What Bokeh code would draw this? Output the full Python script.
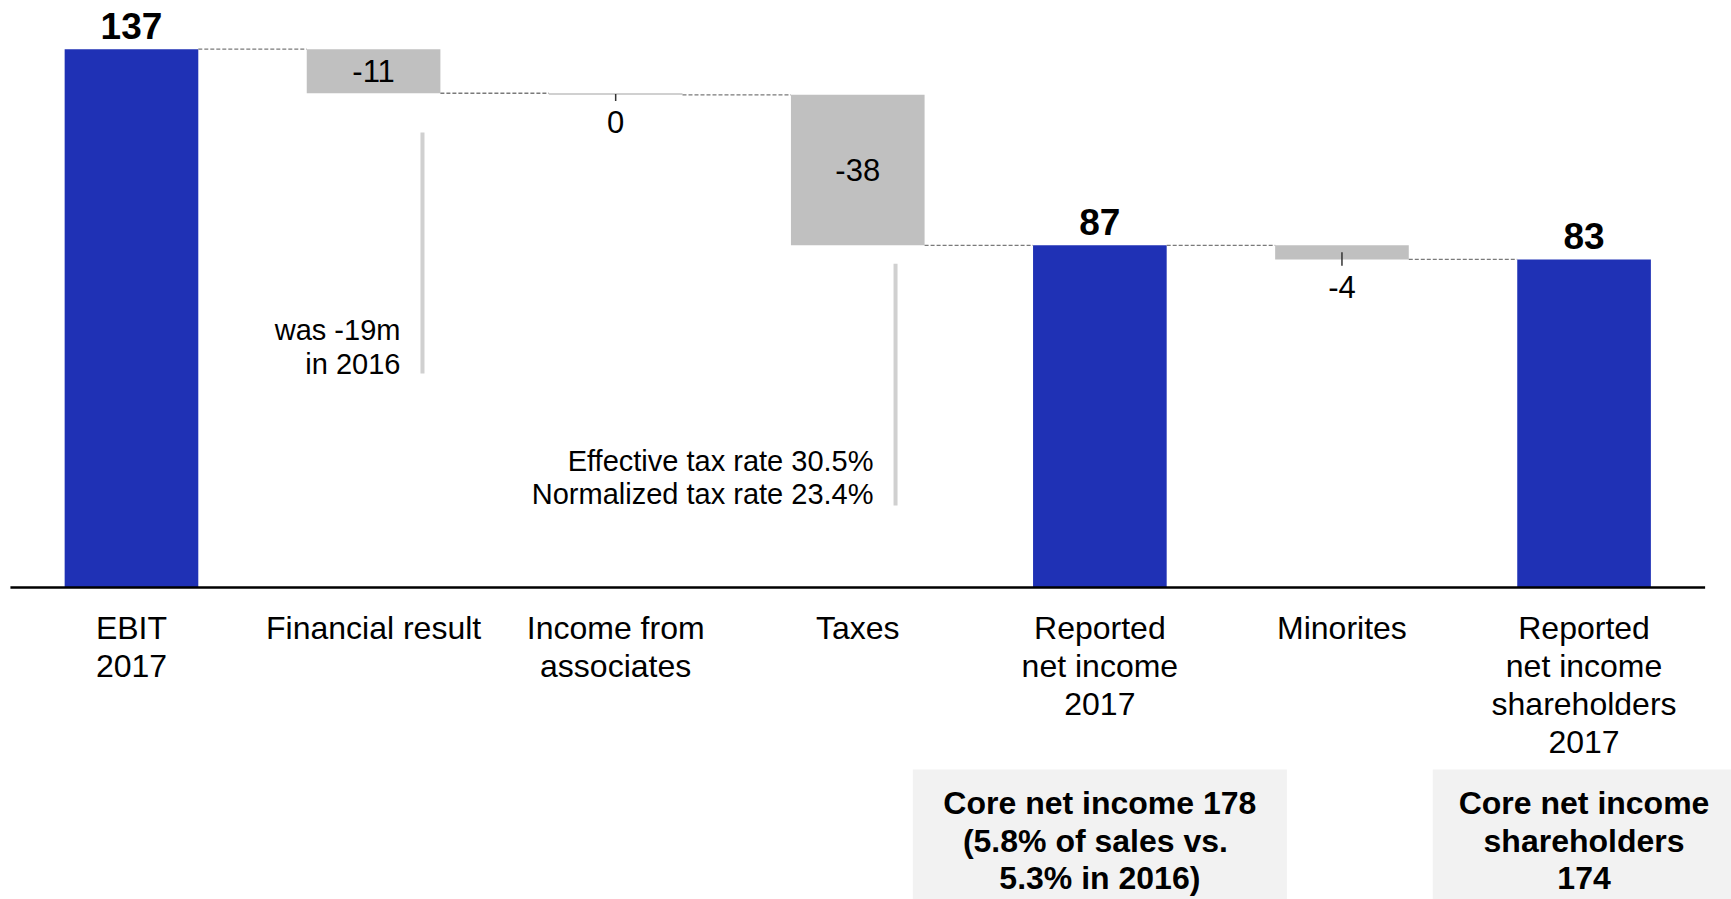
from bokeh.plotting import figure
from bokeh.models import Range1d, ColumnDataSource
from bokeh.core.properties import value
from bokeh.embed import file_html
from bokeh.resources import INLINE

# ---- data ----
categories = ["EBIT\n2017", "Financial result", "Income from\nassociates", "Taxes",
              "Reported\nnet income\n2017", "Minorites",
              "Reported\nnet income\nshareholders\n2017"]
values = [137.0, -11.2, -0.4, -38.3, 87.1, -3.6, 83.5]
kinds = ["total", "delta", "delta", "delta", "total", "delta", "total"]
value_labels = ["137", "-11", "0", "-38", "87", "-4", "83"]

note_fin = "was -19m\nin 2016"
note_tax = "Effective tax rate 30.5%\nNormalized tax rate 23.4%"
box_texts = ["Core net income 178\n(5.8% of sales  vs.\n5.3% in 2016)",
             "Core net income\nshareholders\n174"]
box_cats = [4, 6]
box_widths = [1.545, 1.25]

FONT = value("Liberation Sans")
BLUE = "#1f31b5"
GREY = "#c0c0c0"

W, H = 1731, 899
p = figure(width=W, height=H, output_backend="svg", toolbar_location=None,
           x_axis_location=None, y_axis_location=None,
           x_range=Range1d(-0.541, 6.609), y_range=Range1d(-79.4, 149.4),
           min_border=0)
p.outline_line_color = None
p.grid.visible = False
p.background_fill_color = "white"
p.border_fill_color = "white"

bw = 0.552
x = list(range(len(categories)))

# waterfall geometry
bottoms, tops, colors, levels = [], [], [], []
running = 0.0
for v, k in zip(values, kinds):
    if k == "total":
        b, t = 0.0, v
        running = v
        colors.append(BLUE)
    else:
        start, end = running, running + v
        b, t = min(start, end), max(start, end)
        running = end
        colors.append(GREY)
    bottoms.append(b)
    tops.append(t)
    levels.append(running)

src = ColumnDataSource(dict(x=x, left=[i - bw / 2 for i in x], right=[i + bw / 2 for i in x],
                            bottom=bottoms, top=tops, color=colors))
p.quad(left="left", right="right", bottom="bottom", top="top", fill_color="color",
       line_color=None, source=src)

# connectors
cx0 = [i + bw / 2 for i in x[:-1]]
cx1 = [i + 1 - bw / 2 for i in x[:-1]]
p.segment(x0=cx0, x1=cx1, y0=levels[:-1], y1=levels[:-1], line_color="#7a7a7a",
          line_width=1.3, line_dash="4 2")

# baseline
p.segment(x0=[-0.5], x1=[6.5], y0=[0], y1=[0], line_color="black", line_width=2.5)

# value labels
tot_x, tot_y, tot_t = [], [], []
in_x, in_y, in_t = [], [], []
out_x, out_y, out_t = [], [], []
tick_x, tick_y0, tick_y1 = [], [], []
for i, (v, k, lab) in enumerate(zip(values, kinds, value_labels)):
    if k == "total":
        tot_x.append(i); tot_y.append(tops[i] + 6.0); tot_t.append(lab)
    elif tops[i] - bottoms[i] > 9:
        in_x.append(i); in_y.append((tops[i] + bottoms[i]) / 2); in_t.append(lab)
    else:
        out_x.append(i); out_y.append(bottoms[i] - 7.0); out_t.append(lab)
        tick_x.append(i); tick_y0.append((tops[i] + bottoms[i]) / 2); tick_y1.append(bottoms[i] - 1.6)

p.segment(x0=tick_x, x1=tick_x, y0=tick_y0, y1=tick_y1, line_color="#333333", line_width=1.5)
p.text(x=tot_x, y=tot_y, text=tot_t, text_font=FONT, text_font_size=value("37px"),
       text_font_style="bold", text_align="center", text_baseline="middle", text_color="black")
p.text(x=in_x, y=in_y, text=in_t, text_font=FONT, text_font_size=value("31px"),
       text_align="center", text_baseline="middle", text_color="black")
p.text(x=out_x, y=out_y, text=out_t, text_font=FONT, text_font_size=value("31px"),
       text_align="center", text_baseline="middle", text_color="black")

# category labels
p.text(x=x, y=[-5.6] * len(x), text=categories, text_font=FONT, text_font_size=value("32px"),
       text_align="center", text_baseline="top", text_line_height=1.06, text_color="black")

# notes with grey bars
p.segment(x0=[1.202, 3.156], x1=[1.202, 3.156], y0=[115.8, 82.4], y1=[54.5, 20.9],
          line_color="#d0d0d0", line_width=4)
p.text(x=[1.111], y=[61.1], text=[note_fin], text_font=FONT, text_font_size=value("29px"),
       text_align="right", text_baseline="middle", text_line_height=1.06, text_color="black")
p.text(x=[3.065], y=[28.0], text=[note_tax], text_font=FONT, text_font_size=value("29px"),
       text_align="right", text_baseline="middle", text_line_height=1.06, text_color="black")

# core boxes
p.quad(left=[c - w / 2 for c, w in zip(box_cats, box_widths)],
       right=[c + w / 2 for c, w in zip(box_cats, box_widths)],
       bottom=[-95, -95], top=[-46.3, -46.3], fill_color="#f2f2f2", line_color=None)
p.text(x=box_cats, y=[-64.4, -64.4], text=box_texts, text_font=FONT, text_font_size=value("32px"),
       text_font_style="bold", text_align="center", text_baseline="middle", text_line_height=1.04,
       text_color="black")

open("out.html", "w").write(file_html(p, INLINE))
